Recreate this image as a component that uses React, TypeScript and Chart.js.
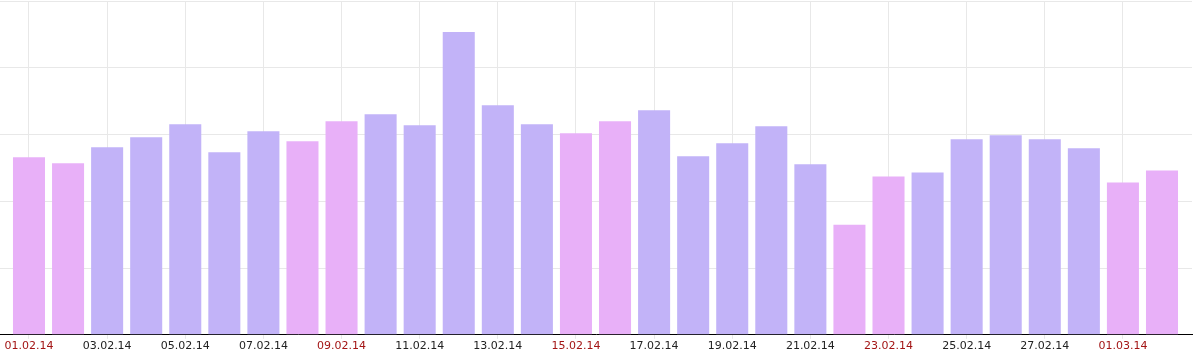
import React, { useEffect, useRef } from "react";
import { Chart, registerables } from "chart.js";

Chart.register(...registerables);

const dateLabels: string[] = [
  "01.02.14", "02.02.14", "03.02.14", "04.02.14", "05.02.14", "06.02.14", "07.02.14",
  "08.02.14", "09.02.14", "10.02.14", "11.02.14", "12.02.14", "13.02.14", "14.02.14",
  "15.02.14", "16.02.14", "17.02.14", "18.02.14", "19.02.14", "20.02.14", "21.02.14",
  "22.02.14", "23.02.14", "24.02.14", "25.02.14", "26.02.14", "27.02.14", "28.02.14",
  "01.03.14", "02.03.14",
];

const dailyValues: number[] = [
  53.2, 51.4, 56.2, 59.2, 63.1, 54.7, 61.0,
  58.0, 64.0, 66.1, 62.8, 90.7, 68.8, 63.1,
  60.4, 64.0, 67.3, 53.5, 57.4, 62.5, 51.1,
  33.0, 47.4, 48.6, 58.6, 59.8, 58.6, 55.9,
  45.6, 49.2,
];

const weekendFlags: boolean[] = [
  true, true, false, false, false, false, false,
  true, true, false, false, false, false, false,
  true, true, false, false, false, false, false,
  true, true, false, false, false, false, false,
  true, true,
];

const labelledDays: number[] = [0, 2, 4, 6, 8, 10, 12, 14, 16, 18, 20, 22, 24, 26, 28];

const PURPLE = "#c2b3f8";
const PINK = "#e8b0f8";
const RED_LABEL = "#a31515";
const DARK_LABEL = "#222222";
const GRID = "#e8e8e8";

export default function App() {
  const canvasRef = useRef<HTMLCanvasElement | null>(null);

  useEffect(() => {
    document.body.style.margin = "0";
    const canvas = canvasRef.current;
    if (!canvas) return;
    const chart = new Chart(canvas, {
      type: "bar",
      data: {
        datasets: [
          {
            data: dailyValues.map((v, i) => ({ x: i, y: v })),
            backgroundColor: weekendFlags.map((w) => (w ? PINK : PURPLE)),
            borderWidth: 0,
            categoryPercentage: 1,
            barPercentage: 0.82,
          },
        ],
      },
      options: {
        responsive: false,
        animation: false,
        layout: { padding: { top: 1, right: 5, left: 0, bottom: 2 } },
        plugins: { legend: { display: false }, tooltip: { enabled: true } },
        scales: {
          x: {
            type: "linear",
            offset: false,
            min: -0.742,
            max: 29.768,
            afterBuildTicks: (scale: any) => {
              scale.ticks = labelledDays.map((v) => ({ value: v }));
            },
            grid: {
              offset: false,
              color: GRID,
              lineWidth: 1,
              tickLength: 4,
              tickColor: GRID,
            },
            border: { display: true, color: "#000000", width: 1 },
            ticks: {
              autoSkip: false,
              maxRotation: 0,
              padding: 1,
              font: { family: "DejaVu Sans", size: 11 },
              color: (ctx: any) => (weekendFlags[ctx.tick?.value] ? RED_LABEL : DARK_LABEL),
              callback: (value: any) => dateLabels[Number(value)] ?? "",
            },
          },
          y: {
            min: 0,
            max: 100,
            ticks: { display: false, stepSize: 20 },
            grid: { color: GRID, lineWidth: 1, drawTicks: false },
            border: { display: false },
          },
        },
      },
    } as any);
    return () => chart.destroy();
  }, []);

  return (
    <div style={{ width: 1197, height: 356 }}>
      <canvas ref={canvasRef} width={1197} height={356} style={{ display: "block" }} />
    </div>
  );
}
